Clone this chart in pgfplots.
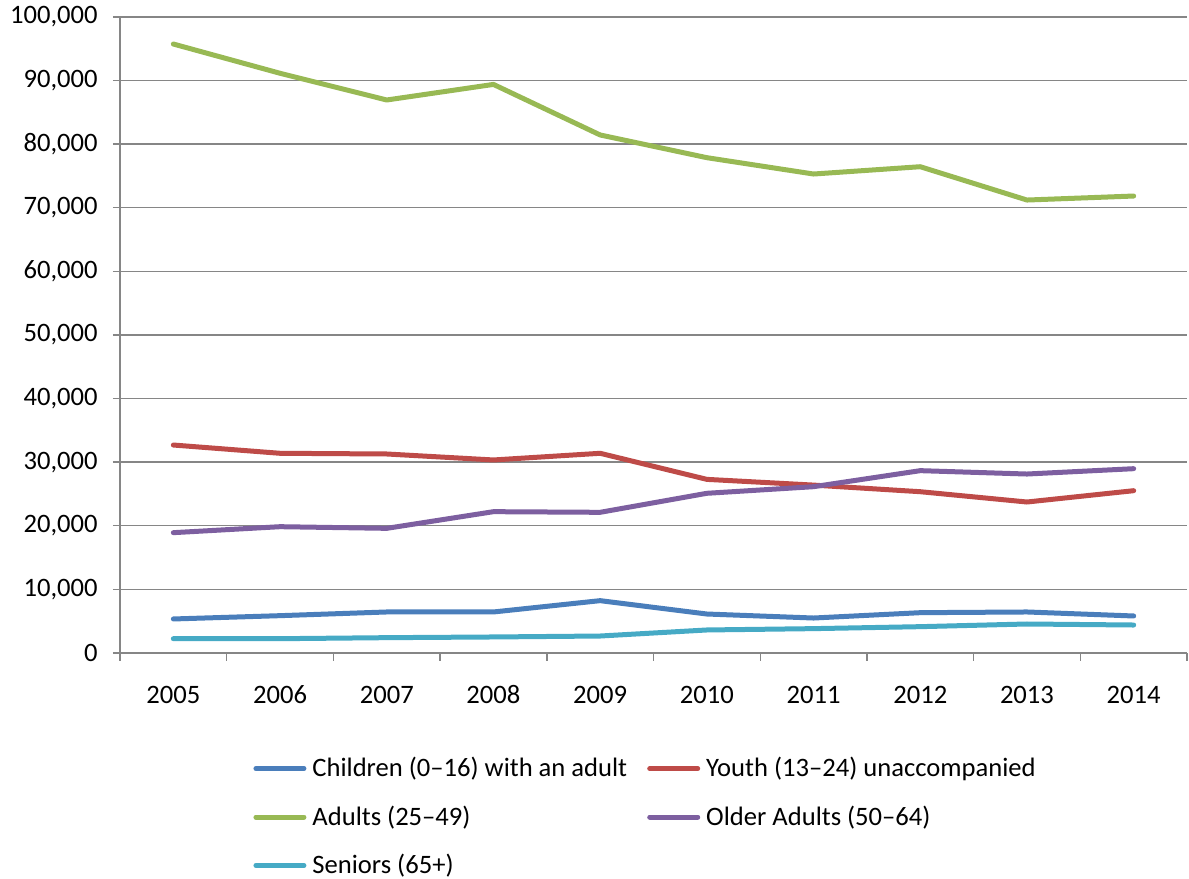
\documentclass[border=0pt]{standalone}
\usepackage{fontspec}
\setmainfont{Carlito}
\usepackage{pgfplots}
\usepackage{pgfplotstable}
\pgfplotsset{compat=1.18}

\definecolor{cChild}{HTML}{4A7EBB}
\definecolor{cYouth}{HTML}{BE4B48}
\definecolor{cAdult}{HTML}{98B954}
\definecolor{cOlder}{HTML}{7D5FA0}
\definecolor{cSenior}{HTML}{46AAC5}
\definecolor{gridgray}{HTML}{868686}

% year index (0 = 2005) and count per age group
\pgfplotstableread{
x children youth adults older seniors
0 5350 32700 95750 18920 2250
1 5870 31400 91150 19860 2250
2 6450 31290 86950 19600 2410
3 6450 30350 89400 22220 2520
4 8230 31400 81450 22120 2670
5 6130 27300 77880 25110 3620
6 5500 26400 75310 26150 3830
7 6340 25360 76460 28670 4140
8 6450 23740 71220 28140 4560
9 5820 25520 71850 28980 4400
}\datatable

\newcommand{\chartfont}{\fontsize{13.3bp}{16bp}\selectfont}

\begin{document}
\begin{tikzpicture}
\useasboundingbox (0,0) rectangle (594.5bp,439.5bp);
\begin{axis}[
  at={(60bp,113bp)}, anchor=south west,
  scale only axis, width=533.5bp, height=318bp,
  xmin=-0.5, xmax=9.5, ymin=0, ymax=100000,
  axis x line*=bottom, axis y line*=left,
  axis line style={gridgray, line width=0.7bp},
  xtick={0,...,9},
  xticklabels={2005,2006,2007,2008,2009,2010,2011,2012,2013,2014},
  major x tick style={draw=none},
  minor xtick={-0.5,0.5,...,9.5},
  ytick={0,10000,...,100000},
  yticklabels={0,{10,000},{20,000},{30,000},{40,000},{50,000},{60,000},{70,000},{80,000},{90,000},{100,000}},
  scaled y ticks=false,
  tick align=outside,
  major tick length=3.5bp, minor tick length=4bp,
  tick style={gridgray, line width=0.7bp},
  ymajorgrids, grid style={gridgray, line width=0.7bp},
  tick label style={font=\chartfont, text=black},
  yticklabel style={inner sep=0pt, anchor=east, xshift=-7.5bp},
  xticklabel style={inner sep=0pt, anchor=base, yshift=-21.5bp},
  legend columns=2,
  legend cell align=left,
  legend image code/.code={\draw[#1, line cap=round] (0bp,0bp) -- (24bp,0bp);},
  legend style={
    at={(axis description cs:0.1247,-0.1635)}, anchor=north west,
    draw=none, fill=none, inner sep=0pt, font=\chartfont,
    nodes={inner sep=0pt},
    column sep=3bp, row sep=13bp,
    /tikz/every even column/.append style={column sep=10bp},
  },
  every axis plot/.append style={line width=2.5bp, line cap=round, line join=round},
]
\addplot[cChild] table[x=x, y=children] {\datatable};
\addlegendentry{Children (0–16) with an adult}
\addplot[cYouth] table[x=x, y=youth] {\datatable};
\addlegendentry{Youth (13–24) unaccompanied}
\addplot[cAdult] table[x=x, y=adults] {\datatable};
\addlegendentry{Adults (25–49)}
\addplot[cOlder] table[x=x, y=older] {\datatable};
\addlegendentry{Older Adults (50–64)}
\addplot[cSenior] table[x=x, y=seniors] {\datatable};
\addlegendentry{Seniors (65+)}
\end{axis}
\end{tikzpicture}
\end{document}
